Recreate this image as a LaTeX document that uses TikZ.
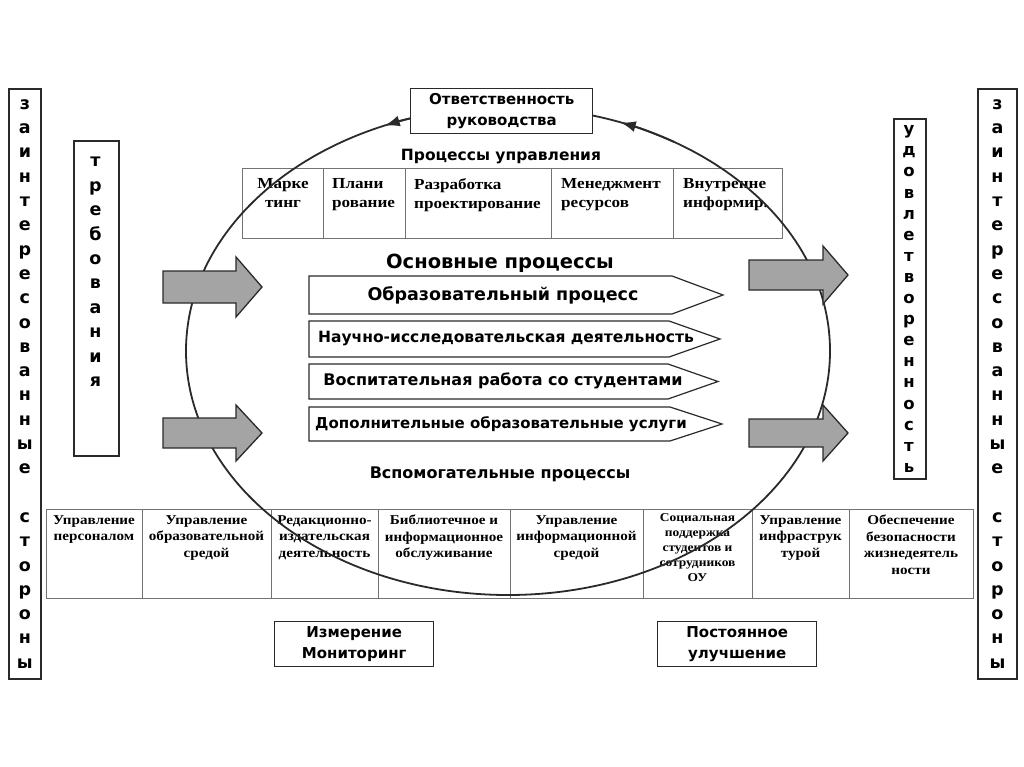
\documentclass[tikz,border=0pt]{standalone}
\usepackage{fontspec}
\setmainfont{Liberation Serif}
\newfontfamily\sansb{DejaVu Sans}
\newfontfamily\serifw[FakeStretch=1.12]{Liberation Serif}
\usetikzlibrary{arrows.meta}
\definecolor{arrowgrey}{HTML}{A4A4A4}
\definecolor{ink}{HTML}{2A2A2A}
\begin{document}
\begin{tikzpicture}[x=1pt,y=-1pt,
  outerbox/.style={draw=ink, line width=1.8pt},
  cellline/.style={draw=black!55, line width=0.9pt},
  stacktext/.style={align=center, inner sep=0pt, font=\sansb\bfseries\fontsize{17.5}{24.3}\selectfont},
  sanst/.style={inner sep=0pt, align=center},
  celltext/.style={inner sep=0pt, anchor=north, align=center, font=\serifw\bfseries\fontsize{13.5}{16.5}\selectfont},
  toptext/.style={inner sep=0pt, anchor=north west, align=left, font=\serifw\bfseries\fontsize{15.3}{19}\selectfont},
  bigarrow/.style={fill=arrowgrey, draw=ink, line width=1.3pt, line join=miter},
  pent/.style={draw=ink, line width=1.2pt, fill=white},
  ell/.style={draw=ink, line width=1.8pt},
  tip/.style={-{Latex[length=15pt,width=11pt]}}
]
\fill[white] (0,0) rectangle (1024,767);
\useasboundingbox (0,0) rectangle (1024,767);

% outer stakeholder boxes
\node[outerbox, minimum width=32pt, minimum height=590pt, anchor=north west] (lbox) at (8,88) {};
\node[stacktext] (ltext) at (lbox.center) {з\\а\\и\\н\\т\\е\\р\\е\\с\\о\\в\\а\\н\\н\\ы\\е\\[24.3pt]с\\т\\о\\р\\о\\н\\ы};
\node[outerbox, minimum width=39pt, minimum height=590pt, anchor=north west] (rbox) at (977,88) {};
\node[stacktext] (rtext) at (rbox.center) {з\\а\\и\\н\\т\\е\\р\\е\\с\\о\\в\\а\\н\\н\\ы\\е\\[24.3pt]с\\т\\о\\р\\о\\н\\ы};

% requirements / satisfaction
\node[outerbox, minimum width=45pt, minimum height=315pt, anchor=north west] (req) at (73,140) {};
\node[stacktext, font=\sansb\bfseries\fontsize{17.5}{24.4}\selectfont] (reqt) at (95.5,272) {т\\р\\е\\б\\о\\в\\а\\н\\и\\я};
\node[outerbox, minimum width=32pt, minimum height=360pt, anchor=north west] (sat) at (893,118) {};
\node[stacktext, font=\sansb\bfseries\fontsize{16.5}{21.1}\selectfont] (satt) at (909,299) {у\\д\\о\\в\\л\\е\\т\\в\\о\\р\\е\\н\\н\\о\\с\\т\\ь};

% management processes table
\node[sanst, font=\sansb\bfseries\fontsize{15.5}{18}\selectfont] (mtitle) at (501,157) {Процессы управления};
\node[cellline, minimum width=81pt, minimum height=70pt, anchor=north west] (m1) at (242,168) {};
\node[cellline, minimum width=82pt, minimum height=70pt, anchor=north west] (m2) at (323,168) {};
\node[cellline, minimum width=146pt, minimum height=70pt, anchor=north west] (m3) at (405,168) {};
\node[cellline, minimum width=122pt, minimum height=70pt, anchor=north west] (m4) at (551,168) {};
\node[cellline, minimum width=109pt, minimum height=70pt, anchor=north west] (m5) at (673,168) {};
\node[toptext, anchor=north, align=center] (m1t) at (283,178) {Марке\\тинг};
\node[toptext] (m2t) at (332,178) {Плани\\рование};
\node[toptext] (m3t) at (414,178) {Разработка\\проектирование};
\node[toptext] (m4t) at (561,178) {Менеджмент\\ресурсов};
\node[toptext] (m5t) at (683,178) {Внутренне\\информир.};

% supporting processes table
\node[cellline, minimum width=96pt, minimum height=89pt, anchor=north west] (s1) at (46,509) {};
\node[cellline, minimum width=129pt, minimum height=89pt, anchor=north west] (s2) at (142,509) {};
\node[cellline, minimum width=107pt, minimum height=89pt, anchor=north west] (s3) at (271,509) {};
\node[cellline, minimum width=132pt, minimum height=89pt, anchor=north west] (s4) at (378,509) {};
\node[cellline, minimum width=133pt, minimum height=89pt, anchor=north west] (s5) at (510,509) {};
\node[cellline, minimum width=109pt, minimum height=89pt, anchor=north west] (s6) at (643,509) {};
\node[cellline, minimum width=97pt, minimum height=89pt, anchor=north west] (s7) at (752,509) {};
\node[cellline, minimum width=124pt, minimum height=89pt, anchor=north west] (s8) at (849,509) {};
\node[celltext] (s1t) at (94,515) {Управление\\персоналом};
\node[celltext] (s2t) at (206.5,515) {Управление\\образовательной\\средой};
\node[celltext] (s3t) at (324.5,515) {Редакционно-\\издательская\\деятельность};
\node[celltext] (s4t) at (444,515) {Библиотечное и\\информационное\\обслуживание};
\node[celltext] (s5t) at (576.5,515) {Управление\\информационной\\средой};
\node[celltext, font=\serifw\bfseries\fontsize{12}{15}\selectfont] (s6t) at (697.5,513) {Социальная\\поддержка\\студентов и\\сотрудников\\ОУ};
\node[celltext] (s7t) at (800.5,515) {Управление\\инфраструк\\турой};
\node[celltext] (s8t) at (911,515) {Обеспечение\\безопасности\\жизнедеятель\\ности};

% the cycle ellipse
\draw[ell] (508,351) ellipse [x radius=322, y radius=244];
\draw[ell, tip] (508,351) ++(258:322 and 244) arc[start angle=258, end angle=247.5, x radius=322, y radius=244];
\draw[ell, tip] (508,351) ++(301:322 and 244) arc[start angle=301, end angle=290.5, x radius=322, y radius=244];

% management responsibility
\node[draw=ink, line width=1.4pt, fill=white, minimum width=182pt, minimum height=45pt, anchor=north west] (resp) at (410,88) {};
\node[sanst, font=\sansb\bfseries\fontsize{15}{21}\selectfont] (respt) at (resp.center) {Ответственность\\руководства};

% main processes
\node[sanst, font=\sansb\bfseries\fontsize{19.5}{22}\selectfont] (mainT) at (500,263) {Основные процессы};
\draw[pent] (309,276) -- (672,276) -- (723,295) -- (672,314) -- (309,314) -- cycle;
\draw[pent] (309,321) -- (669,321) -- (720,339) -- (669,357) -- (309,357) -- cycle;
\draw[pent] (309,364) -- (668,364) -- (718,381.5) -- (668,399) -- (309,399) -- cycle;
\draw[pent] (309,407) -- (670,407) -- (722,424) -- (670,441) -- (309,441) -- cycle;
\node[sanst, font=\sansb\bfseries\fontsize{17.5}{20}\selectfont] (p1) at (503,295) {Образовательный процесс};
\node[sanst, font=\sansb\bfseries\fontsize{15.5}{18}\selectfont] (p2) at (506,339) {Научно-исследовательская деятельность};
\node[sanst, font=\sansb\bfseries\fontsize{16}{18}\selectfont] (p3) at (503,381) {Воспитательная работа со студентами};
\node[sanst, font=\sansb\bfseries\fontsize{15}{18}\selectfont] (p4) at (501,424) {Дополнительные образовательные услуги};
\node[sanst, font=\sansb\bfseries\fontsize{16}{18}\selectfont] (auxT) at (500,474) {Вспомогательные процессы};

% grey block arrows
\draw[bigarrow] (163,271) -- (236,271) -- (236,257) -- (262,287) -- (236,317) -- (236,303) -- (163,303) -- cycle;
\draw[bigarrow] (163,418) -- (236,418) -- (236,405) -- (262,433) -- (236,461) -- (236,448) -- (163,448) -- cycle;
\draw[bigarrow] (749,260) -- (823,260) -- (823,246) -- (848,275) -- (823,304) -- (823,290) -- (749,290) -- cycle;
\draw[bigarrow] (749,419) -- (823,419) -- (823,405) -- (848,433) -- (823,461) -- (823,447) -- (749,447) -- cycle;

% bottom boxes
\node[draw=ink, line width=1.4pt, minimum width=159pt, minimum height=45pt, anchor=north west] (meas) at (274,621) {};
\node[sanst, font=\sansb\bfseries\fontsize{15}{21}\selectfont] (meast) at (meas.center) {Измерение\\Мониторинг};
\node[draw=ink, line width=1.4pt, minimum width=159pt, minimum height=45pt, anchor=north west] (impr) at (657,621) {};
\node[sanst, font=\sansb\bfseries\fontsize{15}{21}\selectfont] (imprt) at (impr.center) {Постоянное\\улучшение};
\end{tikzpicture}
\end{document}
